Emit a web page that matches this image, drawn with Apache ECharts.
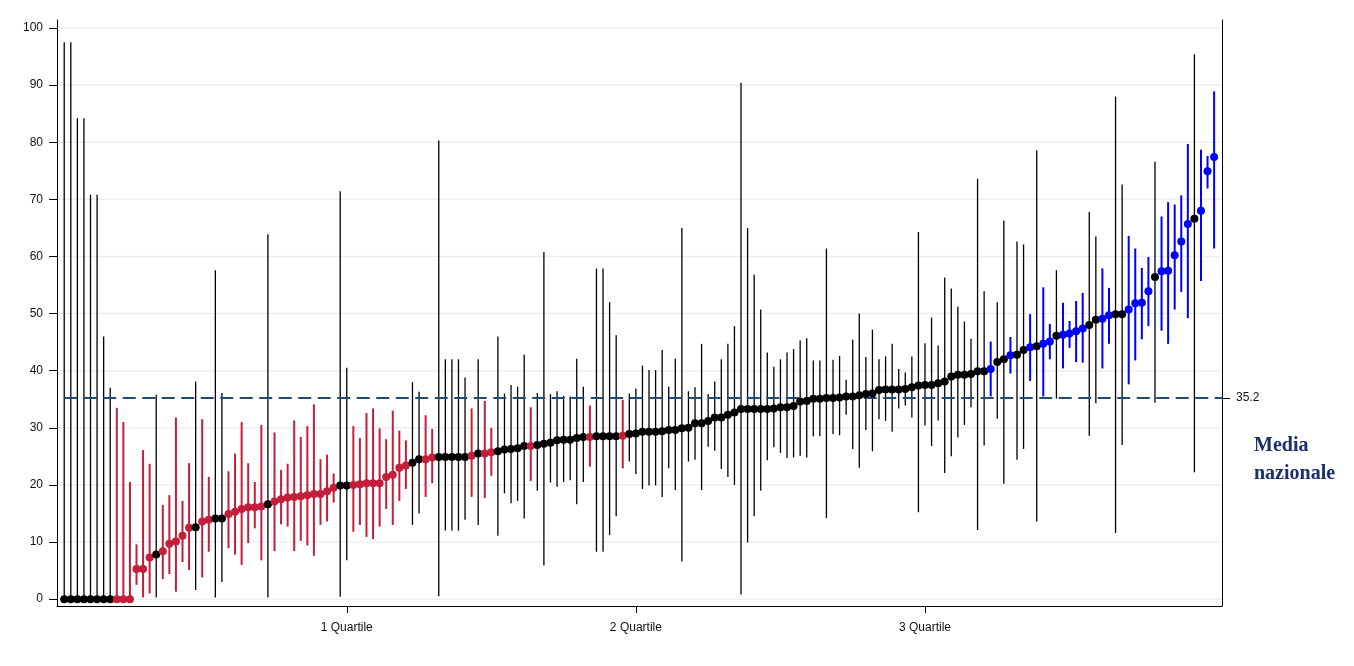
<!DOCTYPE html>
<html><head><meta charset="utf-8">
<script src="https://cdn.jsdelivr.net/npm/echarts@6/dist/echarts.min.js"></script>
<style>html,body{margin:0;padding:0;background:#fff}#chart{width:1354px;height:666px}</style>
</head><body><div id="chart"></div>
<script>
// Estimates (mean) per unit, sorted ascending
const means = [
0,0,0,0,0,0,0,0,0,0,0,
5.3,5.3,7.3,7.8,8.4,9.7,10.1,11.1,12.5,
12.6,13.6,13.9,14.1,14.1,14.9,15.3,15.8,16.1,16.1,
16.2,16.6,17.1,17.5,17.8,17.9,18.0,18.2,18.4,18.4,
18.9,19.5,19.9,19.9,20.0,20.1,20.3,20.3,20.3,21.4,
21.8,23.0,23.4,23.9,24.5,24.5,24.8,24.9,24.9,24.9,
24.9,24.9,25.1,25.5,25.5,25.7,25.9,26.2,26.3,26.4,
26.8,26.8,27.0,27.2,27.4,27.8,27.9,27.9,28.2,28.4,
28.4,28.5,28.5,28.5,28.5,28.6,28.9,29.0,29.3,29.3,
29.3,29.4,29.6,29.6,29.9,30.0,30.8,30.8,31.2,31.8,
31.8,32.3,32.7,33.3,33.3,33.3,33.3,33.3,33.4,33.6,
33.6,33.8,34.6,34.7,35.1,35.1,35.2,35.2,35.3,35.5,
35.5,35.7,35.9,36.0,36.6,36.7,36.7,36.7,36.8,37.1,
37.4,37.5,37.5,37.8,38.1,39.0,39.3,39.3,39.4,39.9,
39.9,40.3,41.5,42.0,42.7,42.8,43.6,44.1,44.3,44.7,
45.1,46.1,46.3,46.5,46.9,47.4,48.0,48.9,49.1,49.7,
49.9,49.9,50.7,51.8,51.9,53.9,56.4,57.4,57.5,60.2,
62.6,65.7,66.6,68.0,74.9,77.4
];
// Lower bound of the confidence interval
const lows = [
0,0,0,0,0,0,0,0,0,0,0,
2.5,0.3,1.0,0.3,3.5,4.4,1.3,6.5,5.1,
1.6,3.8,8.3,0.3,3.0,8.9,7.8,6.0,9.8,12.4,
6.8,0.3,8.4,13.1,12.7,8.4,10.2,9.4,7.6,13.0,
13.6,16.9,0.4,6.8,11.8,13.0,10.9,10.5,12.7,15.8,
13.0,17.2,19.3,13.0,15.0,17.9,20.3,0.5,12.0,12.0,
12.0,13.9,17.9,13.0,17.7,21.6,11.1,18.5,16.8,17.2,
14.1,20.7,19.0,5.9,20.4,19.7,20.5,20.8,16.6,20.5,
23.2,8.3,8.3,11.2,14.5,22.9,24.1,21.9,19.3,19.9,
19.9,17.9,22.9,19.1,6.6,24.1,24.4,19.1,26.7,26.0,
22.8,21.4,20.0,0.8,9.9,14.5,19.0,24.3,26.6,25.6,
24.7,24.8,25.1,24.8,28.5,28.5,14.2,28.9,28.7,32.3,
26.3,23.0,29.6,25.9,31.5,31.2,29.3,33.4,33.9,31.8,
15.2,30.4,26.8,31.3,22.1,25.0,28.3,30.5,33.6,12.1,
26.9,35.5,31.6,20.2,39.5,24.4,26.3,38.2,13.6,35.5,
42.0,35.1,40.4,44.0,41.5,41.4,28.6,34.3,40.4,44.7,
11.6,27.0,37.6,41.8,45.5,47.8,34.4,47.0,44.7,50.7,
53.8,49.2,22.2,55.7,71.9,61.4
];
// Upper bound of the confidence interval
const highs = [
97.5,97.5,84.2,84.2,70.8,70.8,46.0,37.0,33.5,31.0,20.5,
9.6,26.1,23.7,35.8,16.5,18.2,31.8,17.2,23.8,
38.1,31.5,21.4,57.6,36.1,22.4,25.5,31.0,23.8,20.5,
30.5,63.9,29.2,22.6,23.7,31.3,28.4,30.3,34.1,24.5,
25.3,22.0,71.4,40.5,30.3,28.2,32.6,33.4,29.9,28.0,
33.0,29.5,27.8,38.0,36.3,32.2,29.8,80.3,42.0,42.0,
42.0,38.8,33.4,42.0,34.7,30.0,46.0,36.0,37.5,37.2,
42.8,33.6,36.1,60.8,35.9,36.4,35.6,35.5,42.1,37.2,
33.9,57.9,57.9,52.0,46.2,34.9,36.0,36.9,40.9,40.1,
40.1,43.6,37.2,42.1,65.0,36.4,37.1,44.7,35.9,38.1,
42.0,44.7,47.8,90.4,65.0,56.8,50.7,43.2,40.7,42.0,
43.2,43.8,45.3,45.7,41.8,41.8,61.4,41.9,42.6,38.4,
45.4,50.0,42.4,47.2,42.0,42.5,44.7,40.3,39.7,42.5,
64.3,44.8,49.3,44.4,56.3,54.4,51.2,48.6,45.6,73.6,
53.9,45.1,52.0,66.3,45.9,62.6,62.1,49.9,78.6,54.6,
48.2,57.6,51.9,48.7,52.2,53.6,67.8,63.5,57.9,54.5,
88.0,72.6,63.6,61.4,58.0,59.9,76.6,67.0,69.5,69.1,
70.7,79.7,95.4,78.7,77.6,88.9
];
const nationalMean = 35.2;
const nationalLabel = ['Media', 'nazionale'];
const quartilePositions = [44, 88, 132];
const quartileLabels = ['1 Quartile', '2 Quartile', '3 Quartile'];
const yTicks = [0, 10, 20, 30, 40, 50, 60, 70, 80, 90, 100];

const COLOR_LOW = '#c41e3a', COLOR_HIGH = '#0000ff', COLOR_MID = '#000000';
function groupColor(i) {
  if (highs[i] < nationalMean) return COLOR_LOW;
  if (lows[i] > nationalMean) return COLOR_HIGH;
  return COLOR_MID;
}
const pointData = means.map((m, i) => [i + 1, m]);
const ciData = means.map((m, i) => [i + 1, lows[i], highs[i]]);
const gridData = yTicks.map(v => [0, v]);
const N = means.length;

const chart = echarts.init(document.getElementById('chart'), null, {renderer: 'canvas'});
const font = '"Liberation Sans", Arial, sans-serif';
chart.setOption({
  animation: false,
  backgroundColor: '#fff',
  grid: {left: 57, right: 132, top: 20, bottom: 60},
  xAxis: {
    type: 'value', min: -0.1, max: N + 1.2,
    splitLine: {show: false},
    axisLine: {show: true, onZero: false, lineStyle: {color: '#000', width: 1}},
    axisTick: {show: true, customValues: quartilePositions, length: 7, lineStyle: {color: '#000'}},
    axisLabel: {customValues: quartilePositions, formatter: v => quartileLabels[quartilePositions.indexOf(v)] || '',
      color: '#111', fontSize: 12, fontFamily: font, margin: 16}
  },
  yAxis: [{
    type: 'value', min: -1.2, max: 101.4, position: 'left',
    splitLine: {show: false},
    axisLine: {show: true, onZero: false, lineStyle: {color: '#000', width: 1}},
    axisTick: {show: true, customValues: yTicks, length: 8, lineStyle: {color: '#000'}},
    axisLabel: {customValues: yTicks, color: '#111', fontSize: 12, fontFamily: font, margin: 14}
  }, {
    type: 'value', min: -1.2, max: 101.4, position: 'right',
    splitLine: {show: false},
    axisLine: {show: true, onZero: false, lineStyle: {color: '#000', width: 1}},
    axisTick: {show: true, customValues: [nationalMean], length: 8, lineStyle: {color: '#000'}},
    axisLabel: {customValues: [nationalMean], formatter: v => v.toFixed(1), color: '#111', fontSize: 12, fontFamily: font, margin: 14}
  }],
  graphic: [{
    type: 'text', left: 1254, top: 432,
    style: {text: nationalLabel.join('\n'), font: 'bold 20px "Liberation Serif", "Times New Roman", serif',
      fill: '#1b2f6e', lineHeight: 28}
  }],
  series: [{
    // horizontal gridlines
    type: 'custom', z: 0, silent: true, clip: false,
    data: gridData,
    encode: {x: 0, y: 1},
    renderItem: (params, api) => {
      const y = api.coord([0, api.value(1)])[1];
      const cs = params.coordSys;
      return {type: 'line', shape: {x1: cs.x, y1: y, x2: cs.x + cs.width, y2: y},
        style: {stroke: '#e9eff2', lineWidth: 1.5}};
    }
  }, {
    // confidence intervals
    type: 'custom', z: 2, silent: true, clip: false,
    data: ciData,
    encode: {x: 0, y: [1, 2]},
    renderItem: (params, api) => {
      const x = api.value(0);
      const p1 = api.coord([x, api.value(1)]);
      const p2 = api.coord([x, api.value(2)]);
      const c = groupColor(params.dataIndex);
      return {type: 'line', shape: {x1: p1[0], y1: p1[1], x2: p2[0], y2: p2[1]},
        style: {stroke: c, lineWidth: c === COLOR_MID ? 1.3 : 2}};
    }
  }, {
    // national mean dashed line
    type: 'custom', z: 3, silent: true, clip: false,
    data: [[1, nationalMean]],
    encode: {x: 0, y: 1},
    renderItem: (params, api) => {
      const p = api.coord([api.value(0), api.value(1)]);
      const cs = params.coordSys;
      return {type: 'line', shape: {x1: p[0], y1: p[1], x2: cs.x + cs.width, y2: p[1]},
        style: {stroke: '#1f4b75', lineWidth: 2, lineDash: [13, 6.5]}};
    }
  }, {
    // point estimates
    type: 'custom', z: 4, silent: true, clip: false,
    data: pointData,
    encode: {x: 0, y: 1},
    renderItem: (params, api) => {
      const p = api.coord([api.value(0), api.value(1)]);
      return {type: 'circle', shape: {cx: p[0], cy: p[1], r: 4},
        style: {fill: groupColor(params.dataIndex), stroke: null}};
    }
  }]
});
</script></body></html>
